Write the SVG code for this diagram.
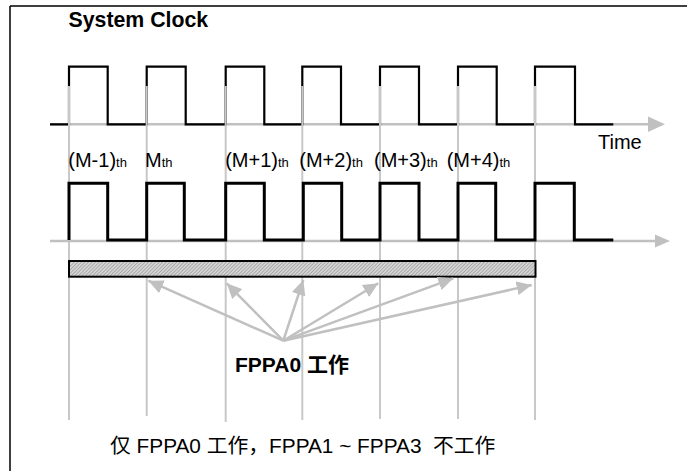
<svg xmlns="http://www.w3.org/2000/svg" width="687" height="471" viewBox="0 0 687 471">
  <style>
    .txt { font-family: "Liberation Sans", "Noto Sans CJK SC", sans-serif; fill: #000; }
    .lbl { font-size: 20px; }
    .sub { font-size: 13px; }
    .bold { font-weight: bold; }
    .axis { stroke: #c0c0c0; stroke-width: 2.5; fill: none; }
    .grid { stroke: #c8c8c8; stroke-width: 2; fill: none; }
    .clk1 { stroke: #000; stroke-width: 2.2; fill: none; }
    .clk2 { stroke: #000; stroke-width: 3; fill: none; }
    .ptr { stroke: #c0c0c0; stroke-width: 2.5; fill: none; marker-end: url(#ah); }
  </style>
  <defs>
    <marker id="ah" markerUnits="userSpaceOnUse" markerWidth="16" markerHeight="14" refX="15" refY="7" orient="auto">
      <path d="M0,0 L15,7 L0,14 Z" fill="#c0c0c0"/>
    </marker>
    <pattern id="hatch" patternUnits="userSpaceOnUse" width="2.5" height="2.5" patternTransform="rotate(45)">
      <rect width="2.5" height="2.5" fill="#d4d4d4"/>
      <line x1="0" y1="0" x2="0" y2="2.5" stroke="#8c8c8c" stroke-width="1.1"/>
    </pattern>
  </defs>
  <rect width="687" height="471" fill="#fff"/>
  <g id="frame">
    <path d="M10,6 H687 M10,6 V471" stroke="#000" stroke-width="1.5" fill="none"/>
  </g>
  <g id="title"><text class="txt bold" x="68.5" y="26.5" font-size="21.3">System Clock</text></g>
  <g id="upper-axis">
    <line class="axis" x1="50" y1="124.3" x2="650" y2="124.3"/>
    <path d="M648,116.5 L665,124.3 L648,132 Z" fill="#c0c0c0"/>
  </g>
  <g id="system-clock">
    <path class="clk1" d="M50,124.3 H69 V66.7 H107.7 V124.3 H146.7 V66.7 H185.7 V124.3 H225.7 V66.7 H264.3 V124.3 H302.3 V66.7 H341 V124.3 H380 V66.7 H419 V124.3 H458 V66.7 H496.7 V124.3 H535 V66.7 H575 V124.3 H613.3"/>
  </g>
  <g id="grid">
    <line class="grid" x1="69" y1="86" x2="69" y2="420"/>
    <line class="grid" x1="146.7" y1="86" x2="146.7" y2="416"/>
    <line class="grid" x1="225.7" y1="86" x2="225.7" y2="422"/>
    <line class="grid" x1="302.3" y1="86" x2="302.3" y2="420"/>
    <line class="grid" x1="380" y1="86" x2="380" y2="419"/>
    <line class="grid" x1="458" y1="86" x2="458" y2="419"/>
    <line class="grid" x1="535" y1="86" x2="535" y2="420"/>
  </g>
  <g id="time-label"><text class="txt lbl" x="598" y="148.5">Time</text></g>
  <g id="cycle-labels">
    <text class="txt lbl" x="68.3" y="166.5">(M-1)<tspan class="sub">th</tspan></text>
    <text class="txt lbl" x="145" y="166.5">M<tspan class="sub">th</tspan></text>
    <text class="txt lbl" x="225.2" y="166.5">(M+1)<tspan class="sub">th</tspan></text>
    <text class="txt lbl" x="299.3" y="166.5">(M+2)<tspan class="sub">th</tspan></text>
    <text class="txt lbl" x="374" y="166.5">(M+3)<tspan class="sub">th</tspan></text>
    <text class="txt lbl" x="446.7" y="166.5">(M+4)<tspan class="sub">th</tspan></text>
  </g>
  <g id="lower-axis">
    <line class="axis" x1="50" y1="241" x2="656" y2="241"/>
    <path d="M655,234.5 L670,241 L655,247.5 Z" fill="#c0c0c0"/>
  </g>
  <g id="fppa-clock">
    <path class="clk2" d="M69,240 V183.3 H107.7 V240 H146.7 V183.3 H184.3 V240 H225.7 V183.3 H264.3 V240 H303.3 V183.3 H341.7 V240 H380 V183.3 H419 V240 H458 V183.3 H495.7 V240 H535 V183.3 H574.3 V240 H613.3"/>
  </g>
  <g id="fppa0-bar">
    <rect x="69" y="261" width="466.5" height="15.7" fill="url(#hatch)" stroke="#000" stroke-width="2"/>
  </g>
  <g id="connectors">
    <line class="ptr" x1="283.3" y1="340.7" x2="148.3" y2="280.7"/>
    <line class="ptr" x1="283.3" y1="340.7" x2="226.7" y2="283.3"/>
    <line class="ptr" x1="283.3" y1="340.7" x2="303.3" y2="280"/>
    <line class="ptr" x1="283.3" y1="340.7" x2="378.3" y2="283.3"/>
    <line class="ptr" x1="283.3" y1="340.7" x2="453.3" y2="278.3"/>
    <line class="ptr" x1="283.3" y1="340.7" x2="531.7" y2="285"/>
  </g>
  <g id="fppa0-label"><text class="txt bold" x="235" y="371.5" font-size="21">FPPA0 工作</text></g>
  <g id="caption"><text class="txt" x="110" y="453" font-size="20.8" xml:space="preserve">仅 FPPA0 工作，FPPA1 ~ FPPA3  不工作</text></g>
</svg>
